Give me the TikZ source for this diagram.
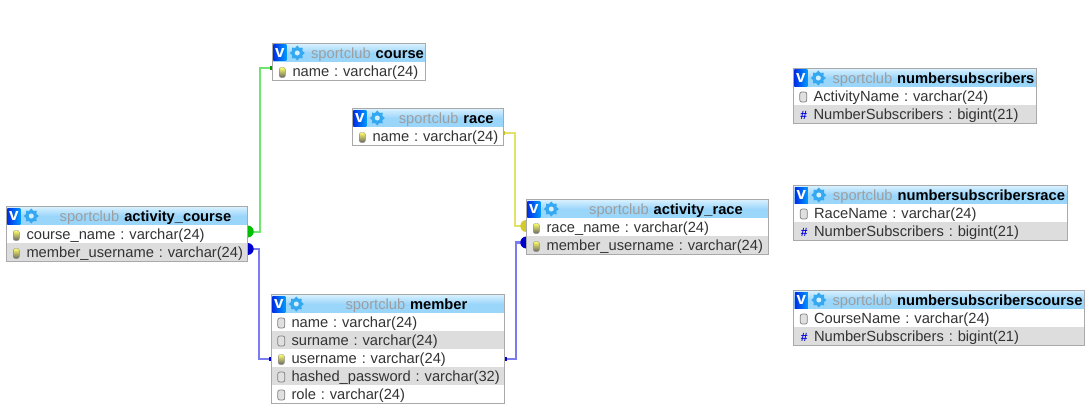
\documentclass[tikz,border=0pt]{standalone}
\usepackage{fontspec}
\setmainfont{Liberation Sans}
\usetikzlibrary{fit,backgrounds,shapes.geometric}
\frenchspacing
\definecolor{frameGray}{HTML}{A9A9A9}
\definecolor{altGray}{HTML}{DDDDDD}
\definecolor{rowText}{HTML}{333333}
\definecolor{headTop}{HTML}{D6F0FF}
\definecolor{headBottom}{HTML}{9AD5FA}
\definecolor{gearBlue}{HTML}{35A8F2}
\definecolor{greenLine}{HTML}{6FE46F}
\definecolor{blueLine}{HTML}{7C7CF2}
\definecolor{yellowLine}{HTML}{E2E268}
\tikzset{
    % table parts
    tableHead/.style = {
        minimum width=#1pt, minimum height=18pt, inner sep=0pt,
        top color=headTop, bottom color=headBottom, middle color=headBottom,
        text width=#1pt, align=center, font=\fontsize{14.7}{14.7}\selectfont,
        text height=13pt, text depth=2.5pt,
        execute at begin node=\hspace*{37pt}
    },
    row/.style = {
        minimum width=#1pt, minimum height=18pt, inner ysep=0pt, inner xsep=0pt,
        fill=white, text=rowText, text width=#1pt, align=left,
        font=\fontsize{14.7}{14.7}\selectfont,
        text height=13pt, text depth=2.5pt,
        execute at begin node=\hspace*{20pt}
    },
    altRow/.style = {row=#1, fill=altGray},
    tableFrame/.style = {draw=frameGray, line width=1.2pt, inner sep=0pt},
    % header icons
    vBadge/.style = {
        minimum width=13pt, minimum height=16pt, inner sep=0pt,
        left color=blue!80!cyan!90!black, right color=blue!40!cyan, text=white,
        font=\fontsize{17}{17}\selectfont\bfseries
    },
    gearIcon/.style = {
        star, star points=8, star point ratio=1.35, fill=gearBlue,
        minimum size=15pt, inner sep=0pt,
        label={[circle, fill=headTop, minimum size=5pt, inner sep=0pt]center:}
    },
    % row icons
    keyIcon/.style = {
        rectangle, rounded corners=2pt, minimum width=6pt, minimum height=10pt, inner sep=0pt,
        top color=yellow!60!white, bottom color=black!60, draw=black!45, line width=.4pt
    },
    columnIcon/.style = {
        rectangle, rounded corners=2pt, minimum width=7pt, minimum height=10pt, inner sep=0pt,
        fill=black!12, draw=black!50, line width=.7pt
    },
    numberIcon/.style = {
        inner sep=0pt, text=blue!85!black, font=\fontsize{12}{12}\selectfont\bfseries
    },
    % connector styles
    greenLink/.style = {draw=greenLine, line width=2pt},
    blueLink/.style = {draw=blueLine, line width=2.2pt},
    yellowLink/.style = {draw=yellowLine, line width=2pt},
    endBlob/.style = {circle, fill=#1, minimum size=12pt, inner sep=0pt},
    stub/.style = {rectangle, fill=#1, minimum width=4pt, minimum height=4pt, inner sep=0pt}
}
\newcommand{\clubName}[1]{{\color{black!38}sportclub} \textbf{#1}}
\begin{document}
\begin{tikzpicture}[x=1pt, y=-1pt, node distance=18pt]
        \useasboundingbox (0,0) rectangle (1092,412);
        % course
        \node[tableHead=153] (course) at (349,53) {\clubName{course}};
        \node[row=153] (courseName) [below of=course] {name : varchar(24)};
        \node[tableFrame, fit=(course)(courseName)] (courseFrame) {};
        % race
        \node[tableHead=150.5] (race) at (427.75,118) {\clubName{race}};
        \node[row=150.5] (raceName) [below of=race] {name : varchar(24)};
        \node[tableFrame, fit=(race)(raceName)] (raceFrame) {};
        % activity_course
        \node[tableHead=241] (activityCourse) at (127,216) {\clubName{activity\_course}};
        \node[row=241] (courseCourseName) [below of=activityCourse] {course\_name : varchar(24)};
        \node[altRow=241] (courseMember) [below of=courseCourseName] {member\_username : varchar(24)};
        \node[tableFrame, fit=(activityCourse)(courseMember)] (activityCourseFrame) {};
        % activity_race
        \node[tableHead=242] (activityRace) at (647.5,209) {\clubName{activity\_race}};
        \node[row=242] (raceRaceName) [below of=activityRace] {race\_name : varchar(24)};
        \node[altRow=242] (raceMember) [below of=raceRaceName] {member\_username : varchar(24)};
        \node[tableFrame, fit=(activityRace)(raceMember)] (activityRaceFrame) {};
        % member
        \node[tableHead=233] (member) at (388,304) {\clubName{member}};
        \node[row=233] (memberName) [below of=member] {name : varchar(24)};
        \node[altRow=233] (memberSurname) [below of=memberName] {surname : varchar(24)};
        \node[row=233] (memberUsername) [below of=memberSurname] {username : varchar(24)};
        \node[altRow=233] (memberPassword) [below of=memberUsername] {hashed\_password : varchar(32)};
        \node[row=233] (memberRole) [below of=memberPassword] {role : varchar(24)};
        \node[tableFrame, fit=(member)(memberRole)] (memberFrame) {};
        % views on the right
        \node[tableHead=243] (numbers) at (915,78) {\clubName{numbersubscribers}};
        \node[row=243] (numbersName) [below of=numbers] {ActivityName : varchar(24)};
        \node[altRow=243] (numbersCount) [below of=numbersName] {NumberSubscribers : bigint(21)};
        \node[tableFrame, fit=(numbers)(numbersCount)] (numbersFrame) {};
        \node[tableHead=273] (numbersRace) at (930.5,195) {\clubName{numbersubscribersrace}};
        \node[row=273] (numbersRaceName) [below of=numbersRace] {RaceName : varchar(24)};
        \node[altRow=273] (numbersRaceCount) [below of=numbersRaceName] {NumberSubscribers : bigint(21)};
        \node[tableFrame, fit=(numbersRace)(numbersRaceCount)] (numbersRaceFrame) {};
        \node[tableHead=290] (numbersCourse) at (939,300) {\clubName{numbersubscriberscourse}};
        \node[row=290] (numbersCourseName) [below of=numbersCourse] {CourseName : varchar(24)};
        \node[altRow=290] (numbersCourseCount) [below of=numbersCourseName] {NumberSubscribers : bigint(21)};
        \node[tableFrame, fit=(numbersCourse)(numbersCourseCount)] (numbersCourseFrame) {};
        % header icons
        \foreach \tbl in {course,race,activityCourse,activityRace,member,numbers,numbersRace,numbersCourse} {
            \node[vBadge] (\tbl V) at ([xshift=7.5pt]\tbl.west) {v};
            \node[gearIcon] (\tbl Gear) at ([xshift=25pt]\tbl.west) {};
        }
        % row icons
        \foreach \cell in {courseName,raceName,courseCourseName,courseMember,raceRaceName,raceMember,memberUsername}
            \node[keyIcon] (\cell Icon) at ([xshift=10pt, yshift=-1.5pt]\cell.west) {};
        \foreach \cell in {memberName,memberSurname,memberPassword,memberRole,numbersName,numbersRaceName,numbersCourseName}
            \node[columnIcon] (\cell Icon) at ([xshift=10pt, yshift=-1pt]\cell.west) {};
        \foreach \cell in {numbersCount,numbersRaceCount,numbersCourseCount}
            \node[numberIcon] (\cell Icon) at ([xshift=10.5pt, yshift=-1pt]\cell.west) {\#};
        % connectors behind the tables
        \begin{scope}[on background layer]
            \coordinate (greenFrom) at ([yshift=3pt]courseName.west);
            \coordinate (greenTo) at ([yshift=2.5pt]courseCourseName.east);
            \coordinate (blueFrom) at ([yshift=3pt]courseMember.east);
            \coordinate (blueTo) at ([yshift=-1pt]memberUsername.west);
            \coordinate (yellowFrom) at ([yshift=3pt]raceName.east);
            \coordinate (yellowTo) at ([yshift=1pt]raceRaceName.west);
            \coordinate (blueFromRight) at ([yshift=-1pt]memberUsername.east);
            \coordinate (blueToRight) at ([yshift=2.5pt]raceMember.west);
            \draw[greenLink] (greenFrom) -- ++(-12,0) |- (greenTo);
            \draw[blueLink] (blueFrom) -- ++(11,0) |- (blueTo);
            \draw[yellowLink] (yellowFrom) -- ++(11.5,0) |- (yellowTo);
            \draw[blueLink] (blueFromRight) -- ++(11,0) |- (blueToRight);
            \node[endBlob=green!75!black] (greenBlob) at (greenTo) {};
            \node[endBlob=blue!80!black] (blueBlob) at (blueFrom) {};
            \node[endBlob=yellow!80!black] (yellowBlob) at (yellowTo) {};
            \node[endBlob=blue!80!black] (blueBlobRight) at (blueToRight) {};
            \node[stub=green!60!black] (greenStub) at (greenFrom) {};
            \node[stub=blue!80!black] (blueStub) at (blueTo) {};
            \node[stub=yellow!75!black] (yellowStub) at (yellowFrom) {};
            \node[stub=blue!80!black] (blueStubRight) at (blueFromRight) {};
        \end{scope}
    \end{tikzpicture}
\end{document}
